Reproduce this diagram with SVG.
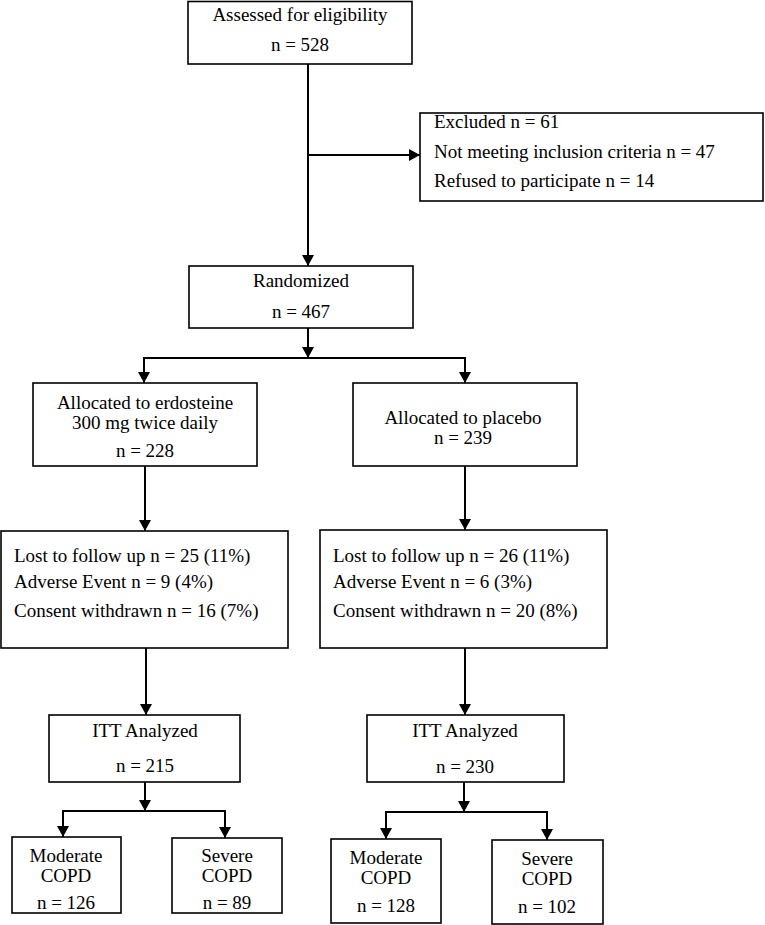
<svg xmlns="http://www.w3.org/2000/svg" width="765" height="925" viewBox="0 0 765 925">
  <style>
    .box { fill: #ffffff; stroke: #000000; stroke-width: 1.6; }
    .lbl { font-family: "Liberation Serif", "Times New Roman", serif; font-size: 19px; fill: #000000; }
    .c { text-anchor: middle; }
    .conn { stroke: #000000; stroke-width: 2; fill: none; }
  </style>
  <defs>
    <marker id="arr" markerUnits="userSpaceOnUse" markerWidth="12" markerHeight="12" viewBox="0 0 12 12" refX="11" refY="6" orient="auto">
      <path d="M0,0 L11,6 L0,12 Z" fill="#000000"/>
    </marker>
  </defs>
  <rect x="0" y="0" width="765" height="925" fill="#ffffff"/>

  <g id="connectors">
    <line class="conn" x1="308" y1="64" x2="308" y2="266" marker-end="url(#arr)"/>
    <line class="conn" x1="308" y1="155" x2="420" y2="155" marker-end="url(#arr)"/>
    <line class="conn" x1="308" y1="328" x2="308" y2="358" marker-end="url(#arr)"/>
    <line class="conn" x1="143" y1="358" x2="466" y2="358"/>
    <line class="conn" x1="144" y1="358" x2="144" y2="383" marker-end="url(#arr)"/>
    <line class="conn" x1="465" y1="358" x2="465" y2="383" marker-end="url(#arr)"/>
    <line class="conn" x1="145" y1="466" x2="145" y2="531" marker-end="url(#arr)"/>
    <line class="conn" x1="465" y1="466" x2="465" y2="530" marker-end="url(#arr)"/>
    <line class="conn" x1="146" y1="648" x2="146" y2="715" marker-end="url(#arr)"/>
    <line class="conn" x1="465" y1="648" x2="465" y2="715" marker-end="url(#arr)"/>
    <line class="conn" x1="145" y1="782" x2="145" y2="811" marker-end="url(#arr)"/>
    <line class="conn" x1="62" y1="811" x2="226" y2="811"/>
    <line class="conn" x1="63" y1="811" x2="63" y2="837" marker-end="url(#arr)"/>
    <line class="conn" x1="225" y1="811" x2="225" y2="838" marker-end="url(#arr)"/>
    <line class="conn" x1="464" y1="782" x2="464" y2="812" marker-end="url(#arr)"/>
    <line class="conn" x1="385" y1="812" x2="548" y2="812"/>
    <line class="conn" x1="386" y1="812" x2="386" y2="839" marker-end="url(#arr)"/>
    <line class="conn" x1="547" y1="812" x2="547" y2="840" marker-end="url(#arr)"/>
  </g>

  <g id="assessed">
    <rect class="box" x="188" y="1.5" width="224" height="62.5"/>
    <text class="lbl c" x="300" y="21">Assessed for eligibility</text>
    <text class="lbl c" x="300" y="51">n = 528</text>
  </g>

  <g id="excluded">
    <rect class="box" x="420" y="113" width="343" height="88"/>
    <text class="lbl" x="434" y="128">Excluded n = 61</text>
    <text class="lbl" x="434" y="158">Not meeting inclusion criteria n = 47</text>
    <text class="lbl" x="434" y="187">Refused to participate n = 14</text>
  </g>

  <g id="randomized">
    <rect class="box" x="189" y="266" width="224" height="62"/>
    <text class="lbl c" x="301" y="287">Randomized</text>
    <text class="lbl c" x="301" y="318">n = 467</text>
  </g>

  <g id="alloc-erdosteine">
    <rect class="box" x="33" y="383" width="224" height="83"/>
    <text class="lbl c" x="145" y="409">Allocated to erdosteine</text>
    <text class="lbl c" x="145" y="429">300 mg twice daily</text>
    <text class="lbl c" x="145" y="457">n = 228</text>
  </g>

  <g id="alloc-placebo">
    <rect class="box" x="353" y="383" width="224" height="83"/>
    <text class="lbl c" x="463" y="424">Allocated to placebo</text>
    <text class="lbl c" x="463" y="444">n = 239</text>
  </g>

  <g id="lost-erdosteine">
    <rect class="box" x="1" y="531" width="287" height="117"/>
    <text class="lbl" x="14" y="562">Lost to follow up n = 25 (11%)</text>
    <text class="lbl" x="14" y="588">Adverse Event n = 9 (4%)</text>
    <text class="lbl" x="14" y="617">Consent withdrawn n = 16 (7%)</text>
  </g>

  <g id="lost-placebo">
    <rect class="box" x="320" y="530" width="287" height="118"/>
    <text class="lbl" x="333" y="562">Lost to follow up n = 26 (11%)</text>
    <text class="lbl" x="333" y="588">Adverse Event n = 6 (3%)</text>
    <text class="lbl" x="333" y="617">Consent withdrawn n = 20 (8%)</text>
  </g>

  <g id="itt-erdosteine">
    <rect class="box" x="49" y="715" width="191" height="67"/>
    <text class="lbl c" x="145" y="737">ITT Analyzed</text>
    <text class="lbl c" x="145" y="772">n = 215</text>
  </g>

  <g id="itt-placebo">
    <rect class="box" x="367" y="715" width="197" height="67"/>
    <text class="lbl c" x="465" y="737">ITT Analyzed</text>
    <text class="lbl c" x="465" y="773">n = 230</text>
  </g>

  <g id="moderate-erdosteine">
    <rect class="box" x="12" y="837" width="109" height="76"/>
    <text class="lbl c" x="66" y="862">Moderate</text>
    <text class="lbl c" x="66" y="882">COPD</text>
    <text class="lbl c" x="66" y="909">n = 126</text>
  </g>

  <g id="severe-erdosteine">
    <rect class="box" x="172" y="838" width="110" height="75"/>
    <text class="lbl c" x="227" y="862">Severe</text>
    <text class="lbl c" x="227" y="882">COPD</text>
    <text class="lbl c" x="227" y="909">n = 89</text>
  </g>

  <g id="moderate-placebo">
    <rect class="box" x="331" y="839" width="110" height="84"/>
    <text class="lbl c" x="386" y="864">Moderate</text>
    <text class="lbl c" x="386" y="884">COPD</text>
    <text class="lbl c" x="386" y="912">n = 128</text>
  </g>

  <g id="severe-placebo">
    <rect class="box" x="492" y="840" width="111" height="84"/>
    <text class="lbl c" x="547" y="865">Severe</text>
    <text class="lbl c" x="547" y="885">COPD</text>
    <text class="lbl c" x="547" y="913">n = 102</text>
  </g>
</svg>
